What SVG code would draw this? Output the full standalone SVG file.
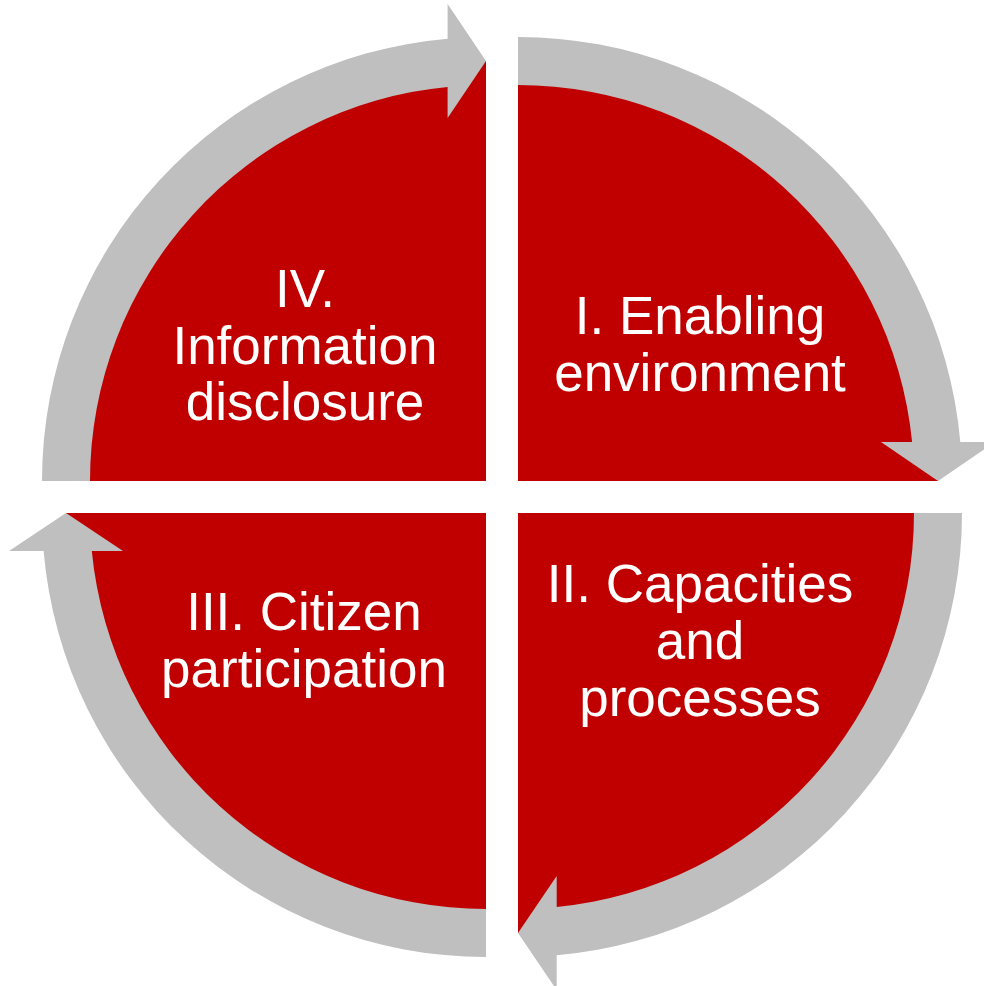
<svg xmlns="http://www.w3.org/2000/svg" width="984" height="986" viewBox="0 0 984 986">
<style>
.quad{fill:#C00000;}
.arrow{fill:#BFBFBF;}
.lbl{fill:#FFFFFF;font-family:"Liberation Sans",Arial,sans-serif;font-size:53px;text-anchor:middle;}
</style>
<rect width="984" height="986" fill="#FFFFFF"/>
<g id="node-enabling">
<path class="quad" d="M518,481 L518,61 A420,420 0 0 1 938,481 Z"/>
<text class="lbl" x="700" y="334">I. Enabling</text>
<text class="lbl" x="700" y="391">environment</text>
</g>
<g id="node-capacities">
<path class="quad" d="M518,513 L938,513 A420,420 0 0 1 518,933 Z"/>
<text class="lbl" x="700" y="602">II. Capacities</text>
<text class="lbl" x="700" y="659">and</text>
<text class="lbl" x="700" y="716">processes</text>
</g>
<g id="node-citizen">
<path class="quad" d="M486,513 L486,933 A420,420 0 0 1 66,513 Z"/>
<text class="lbl" x="304" y="630">III. Citizen</text>
<text class="lbl" x="304" y="687">participation</text>
</g>
<g id="node-information">
<path class="quad" d="M486,481 L66,481 A420,420 0 0 1 486,61 Z"/>
<text class="lbl" x="305" y="307">IV.</text>
<text class="lbl" x="305" y="364">Information</text>
<text class="lbl" x="305" y="420">disclosure</text>
</g>
<g id="connectors">
<path class="arrow" d="M518,37 A444,444 0 0 1 960.3,442 L995,442 L938,481 L881,442 L912.1,442 A396,396 0 0 0 518,85 Z"/>
<path class="arrow" d="M962,513 A444,444 0 0 1 556.7,955.3 L556.7,990 L518,933 L556.7,876 L556.7,907.1 A396,396 0 0 0 914,513 Z"/>
<path class="arrow" d="M486,957 A444,444 0 0 1 43.6,551 L9,551 L66,513 L123,551 L91.8,551 A396,396 0 0 0 486,909 Z"/>
<path class="arrow" d="M42,481 A444,444 0 0 1 447.6,38.7 L447.6,4 L486,61 L447.6,118 L447.6,86.9 A396,396 0 0 0 90,481 Z"/>
</g>
</svg>
